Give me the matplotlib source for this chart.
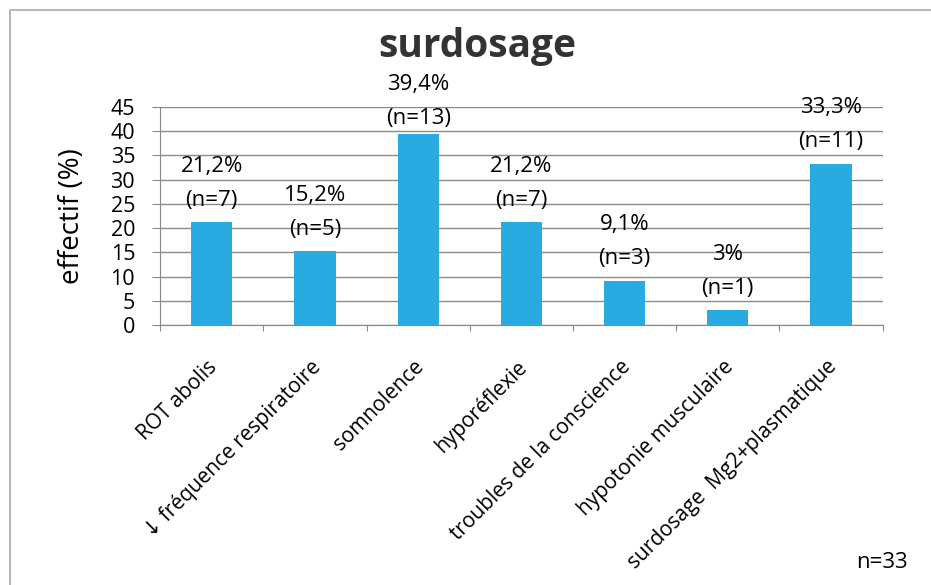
import matplotlib.pyplot as plt
from matplotlib.patches import Rectangle

categories = ["ROT abolis", "\u2193 fréquence respiratoire", "somnolence", "hyporéflexie",
              "troubles de la conscience", "hypotonie musculaire", "surdosage  Mg2+plasmatique"]
values = [21.2, 15.2, 39.4, 21.2, 9.1, 3.0, 33.3]
pct_labels = ["21,2%", "15,2%", "39,4%", "21,2%", "9,1%", "3%", "33,3%"]
n_labels = ["(n=7)", "(n=5)", "(n=13)", "(n=7)", "(n=3)", "(n=1)", "(n=11)"]

plt.rcParams['font.family'] = ['Open Sans', 'DejaVu Sans']

fig = plt.figure(figsize=(9.31, 5.85), dpi=100)
ax = fig.add_axes([0.172, 0.4444, 0.776, 0.3727])

x = list(range(len(categories)))
ax.bar(x, values, width=0.4, color="#29abe2", zorder=3)
ax.set_xlim(-0.5, len(categories) - 0.5)
ax.set_ylim(0, 45)
ax.set_yticks(range(0, 46, 5))
ax.tick_params(axis='y', labelsize=15.5, length=6, color="#888888", pad=12)
ax.yaxis.grid(True, color="#8a8a8a", linewidth=1, zorder=0)
ax.set_axisbelow(True)

ax.set_xticks([i - 0.5 for i in range(len(categories) + 1)])
ax.set_xticklabels([])
ax.tick_params(axis='x', length=4, color="#888888")
for s in ["top", "right"]:
    ax.spines[s].set_visible(False)
for s in ["left", "bottom"]:
    ax.spines[s].set_color("#888888")

for i, cat in enumerate(categories):
    ax.annotate(cat, xy=(i, 0), xytext=(2, -28), textcoords="offset points",
                rotation=45, ha="right", va="center", rotation_mode="anchor",
                fontsize=15, annotation_clip=False)

# labels above bars, pushed down when they would run into the title (as Excel does)
label_top = 49.6
for i, v in enumerate(values):
    y_pct = min(v + 11.6, label_top)
    y_n = min(v + 5.2, y_pct - 7.0)
    ax.text(i, y_n, n_labels[i], ha="center", va="center", fontsize=16, clip_on=False)
    ax.text(i, y_pct, pct_labels[i], ha="center", va="center", fontsize=16, clip_on=False)

ax.set_ylabel("effectif (%)", fontsize=20, labelpad=18)
fig.text(0.513, 0.92, "surdosage", ha="center", va="center", fontsize=28, fontweight="bold",
         color="#333333")
fig.text(0.975, 0.039, "n=33", ha="right", va="center", fontsize=16)

fig.patches.append(Rectangle((0.0107, -0.1), 1.2, 1.083, transform=fig.transFigure,
                             fill=False, edgecolor="#aaaaaa", linewidth=1.2))

fig.savefig("out.png", dpi=100)
